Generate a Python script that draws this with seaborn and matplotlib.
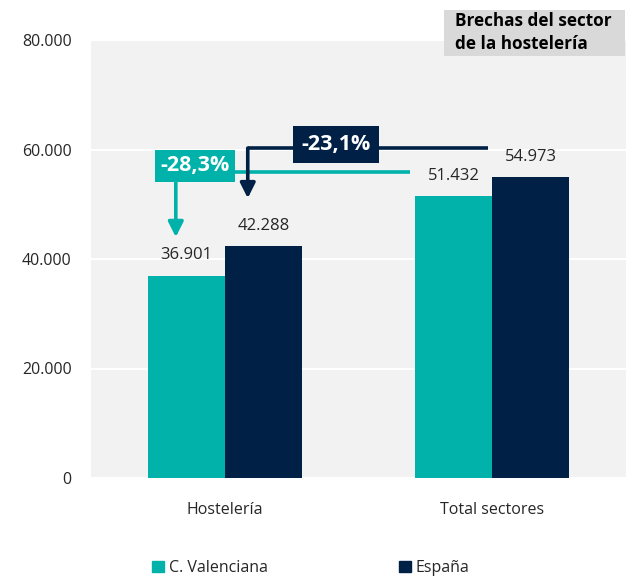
import matplotlib
matplotlib.use('Agg')
import matplotlib.pyplot as plt
import matplotlib.patches as mpatches
from matplotlib.ticker import FuncFormatter
import seaborn as sns
import pandas as pd

# datos
sectores = ['Hostelería', 'Total sectores']
regiones = ['C. Valenciana', 'España']
valencia = [36901, 51432]
espana = [42288, 54973]
brechas = ['-28,3%', '-23,1%']

teal = '#00b2a9'
navy = '#002145'

sns.set_style('white')
plt.rcParams['font.family'] = ['Open Sans', 'DejaVu Sans']

df = pd.DataFrame({
    'sector': sectores * 2,
    'region': [regiones[0]] * 2 + [regiones[1]] * 2,
    'valor': valencia + espana,
})

fig = plt.figure(figsize=(6.3, 5.79), dpi=100)
ax = fig.add_axes([91 / 630, 1 - 478 / 579, 535 / 630, 438 / 579])
ax.set_facecolor('#f2f2f2')

sns.barplot(data=df, x='sector', y='valor', hue='region', palette=[teal, navy],
            width=0.577, saturation=1, ax=ax, legend=False, zorder=3,
            edgecolor='none', linewidth=0)

ax.set_xlim(-0.5, 1.5)
ax.set_ylim(0, 80000)
ax.set_yticks(range(0, 80001, 20000))
ax.yaxis.set_major_formatter(FuncFormatter(lambda v, p: f'{int(v):,}'.replace(',', '.')))
ax.grid(axis='y', color='white', lw=1.5, zorder=0)
ax.set_axisbelow(True)
for s in ax.spines.values():
    s.set_visible(False)
ax.tick_params(axis='both', length=0, labelsize=11.5, colors='#262626')
ax.tick_params(axis='x', pad=17)
ax.tick_params(axis='y', pad=14)
ax.set_xlabel('')
ax.set_ylabel('')

# etiquetas de valor
for cont in ax.containers:
    ax.bar_label(cont, labels=[f'{int(v):,}'.replace(',', '.') for v in cont.datavalues],
                 padding=9, fontsize=12, color='#262626')

# brecha C. Valenciana
ax.plot([-0.183, 0.693], [55900, 55900], color=teal, lw=2.6, zorder=4, solid_capstyle='butt')
ax.annotate('', xy=(-0.183, 44000), xytext=(-0.183, 55900),
            arrowprops=dict(arrowstyle='-|>,head_length=0.9,head_width=0.45',
                            color=teal, lw=2.6, shrinkA=0, shrinkB=0), zorder=4)
ax.text(-0.112, 57000, brechas[0], color='white', fontsize=15.5, fontweight='bold',
        ha='center', va='center', zorder=6,
        bbox=dict(boxstyle='square,pad=0.25', fc=teal, ec='none'))

# brecha España
ax.plot([0.086, 0.985], [60260, 60260], color=navy, lw=2.6, zorder=4, solid_capstyle='butt')
ax.annotate('', xy=(0.086, 51100), xytext=(0.086, 60260),
            arrowprops=dict(arrowstyle='-|>,head_length=0.9,head_width=0.45',
                            color=navy, lw=2.6, shrinkA=0, shrinkB=0), zorder=4)
ax.text(0.416, 60900, brechas[1], color='white', fontsize=15.5, fontweight='bold',
        ha='center', va='center', zorder=6,
        bbox=dict(boxstyle='square,pad=0.37', fc=navy, ec='none'))

# titulo en caja
rect = mpatches.Rectangle((444 / 630, 1 - 56 / 579), 181 / 630, 46 / 579,
                          transform=fig.transFigure, fc='#d9d9d9', ec='none', zorder=5)
fig.patches.append(rect)
fig.text(455 / 630, 1 - 12 / 579, 'Brechas del sector\nde la hostelería', fontsize=12.3,
         fontweight='bold', color='black', va='top', ha='left', linespacing=1.35, zorder=6)

# leyenda
handles = [mpatches.Patch(color=teal, label=regiones[0]),
           mpatches.Patch(color=navy, label=regiones[1])]
fig.legend(handles=handles, loc='center left', bbox_to_anchor=(138 / 630, 1 - 568 / 579),
           ncol=2, frameon=False, fontsize=11.5, handlelength=0.75, handleheight=0.75,
           handletextpad=0.3, columnspacing=8.2, labelcolor='#262626')

plt.savefig('out.png', dpi=100)
